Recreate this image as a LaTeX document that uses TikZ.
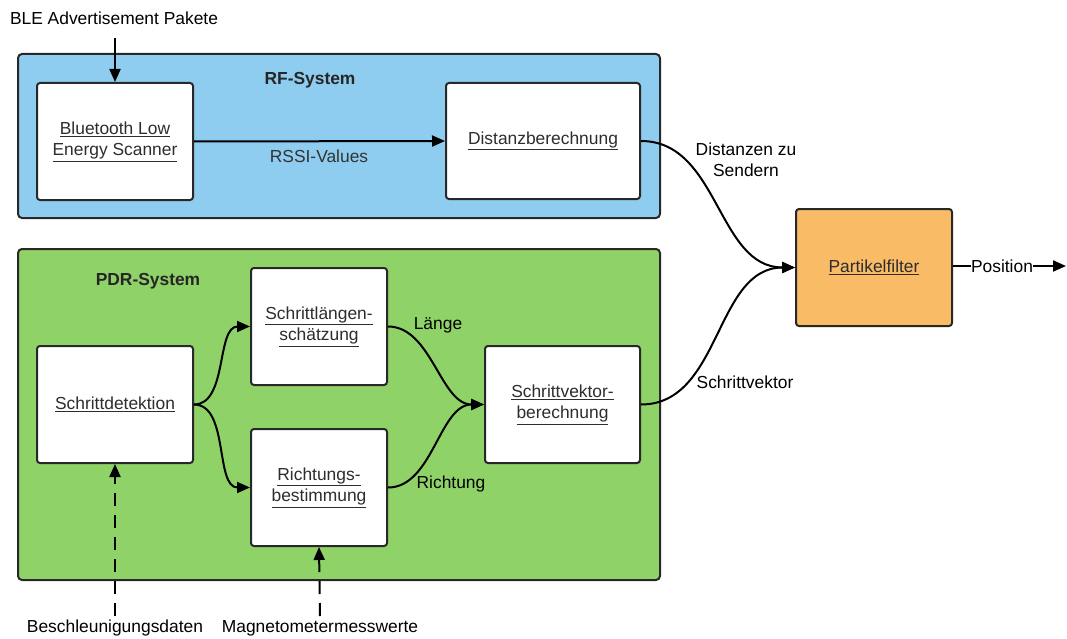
\documentclass[tikz,border=0pt]{standalone}
\usepackage{fontspec}
\setmainfont{Liberation Sans}
\usetikzlibrary{arrows.meta}
\definecolor{rfblue}{RGB}{142,205,240}
\definecolor{pdrgreen}{RGB}{143,210,104}
\definecolor{pforange}{RGB}{249,187,102}
\definecolor{edgegray}{RGB}{40,40,40}
\definecolor{txtgray}{RGB}{45,45,45}
\begin{document}
\begin{tikzpicture}[x=1pt,y=-1pt,
  every node/.style={font=\fontsize{17.4}{21.5}\selectfont, text=txtgray},
  container/.style={draw=edgegray, line width=2pt, rounded corners=4pt},
  stepbox/.style={draw=edgegray, fill=white, line width=2pt, rounded corners=3pt,
    align=center, inner sep=0pt},
  flow/.style={line width=2pt, draw=black, -{Triangle[length=13pt,width=11pt]}},
  feed/.style={flow, dash pattern=on 13pt off 9pt},
  lbl/.style={text=black, align=center, inner sep=0pt},
  title/.style={font=\fontsize{17.4}{20}\selectfont\bfseries, text=black!85}
]
\useasboundingbox (0,0) rectangle (1067,639);

% system containers
\draw[container, fill=rfblue] (18,54) rectangle (660,218);
\draw[container, fill=pdrgreen] (18,249) rectangle (660,580);
\node[title] (rftitle) at (310,80) {RF-System};
\node[title] (pdrtitle) at (148,281) {PDR-System};

% processing blocks
\node[stepbox, minimum width=156pt, minimum height=117pt] (ble) at (115,141.5)
  {\underline{Bluetooth Low}\\\underline{Energy Scanner}};
\node[stepbox, minimum width=194pt, minimum height=116pt] (dist) at (543,141)
  {\underline{Distanzberechnung}};
\node[stepbox, minimum width=156pt, minimum height=117pt] (sd) at (115,404.5)
  {\underline{Schrittdetektion}};
\node[stepbox, minimum width=136pt, minimum height=117pt] (sl) at (319,326.5)
  {\underline{Schrittlängen-}\\\underline{schätzung}};
\node[stepbox, minimum width=136pt, minimum height=117pt] (rb) at (319,487.5)
  {\underline{Richtungs-}\\\underline{bestimmung}};
\node[stepbox, minimum width=155pt, minimum height=117pt] (sv) at (562.5,404.5)
  {\underline{Schrittvektor-}\\\underline{berechnung}};
\node[stepbox, fill=pforange, minimum width=156pt, minimum height=117pt] (pf) at (874,267.5)
  {\underline{Partikelfilter}};

% external inputs
\node[lbl] (ble-in) at (114,18) {BLE Advertisement Pakete};
\node[lbl] (acc-in) at (115,628) {Beschleunigungsdaten};
\node[lbl] (mag-in) at (320,628) {Magnetometermesswerte};
\coordinate (ble-top) at (115,38);
\coordinate (acc-bot) at (115,616);
\coordinate (mag-bot) at (320,616);
\draw[flow] (ble-top) -- (ble.north);
\draw[feed] (acc-bot) -- (sd.south);
\draw[feed] (mag-bot) -- (rb.south);

% RF path
\draw[flow] (ble.east) -- (dist.west);
\node[lbl, text=black!80] (rssi) at (319,156) {RSSI-Values};

% PDR path
\draw[flow] (sd.east) to[out=0, in=180, looseness=0.9] (sl.west);
\draw[flow] (sd.east) to[out=0, in=180, looseness=0.9] (rb.west);
\draw[flow] (sl.east) to[out=0, in=180, looseness=0.9] (sv.west);
\draw[flow] (rb.east) to[out=0, in=180, looseness=0.9] (sv.west);
\node[lbl] (laenge) at (438,325) {Länge};
\node[lbl] (richtung) at (451,484) {Richtung};

% fusion
\draw[flow] (dist.east) to[out=0, in=180, looseness=1] (pf.west);
\draw[flow] (sv.east) to[out=0, in=180, looseness=1] (pf.west);
\node[lbl] (dz) at (746,160) {Distanzen zu\\Sendern};
\node[lbl] (svl) at (745,382) {Schrittvektor};

% output
\node[lbl] (pos) at (1002,266) {Position};
\coordinate (out) at (1066,266);
\draw[line width=2pt] (pf.east |- pos.west) -- (pos.west);
\draw[flow] (pos.east) -- (out);
\end{tikzpicture}
\end{document}
